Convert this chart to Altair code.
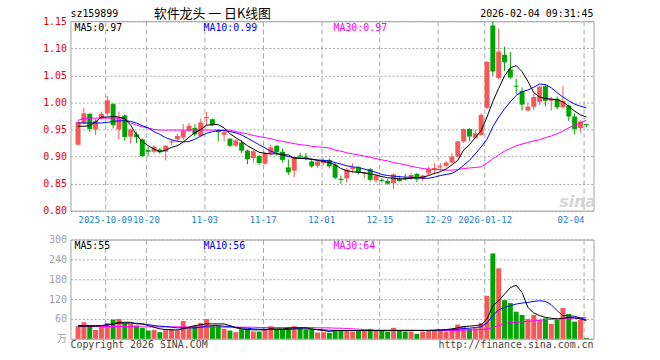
import altair as alt
import pandas as pd

# ---------------- data ----------------
dates = [
    "2025-09-24", "2025-09-25", "2025-09-26", "2025-09-29", "2025-09-30",
    "2025-10-09", "2025-10-10", "2025-10-13", "2025-10-14", "2025-10-15", "2025-10-16", "2025-10-17",
    "2025-10-20", "2025-10-21", "2025-10-22", "2025-10-23", "2025-10-24",
    "2025-10-27", "2025-10-28", "2025-10-29", "2025-10-30", "2025-10-31",
    "2025-11-03", "2025-11-04", "2025-11-05", "2025-11-06", "2025-11-07",
    "2025-11-10", "2025-11-11", "2025-11-12", "2025-11-13", "2025-11-14",
    "2025-11-17", "2025-11-18", "2025-11-19", "2025-11-20", "2025-11-21",
    "2025-11-24", "2025-11-25", "2025-11-26", "2025-11-27", "2025-11-28",
    "2025-12-01", "2025-12-02", "2025-12-03", "2025-12-04", "2025-12-05",
    "2025-12-08", "2025-12-09", "2025-12-10", "2025-12-11", "2025-12-12",
    "2025-12-15", "2025-12-16", "2025-12-17", "2025-12-18", "2025-12-19",
    "2025-12-22", "2025-12-23", "2025-12-24", "2025-12-25", "2025-12-26",
    "2025-12-29", "2025-12-30", "2025-12-31",
    "2026-01-05", "2026-01-06", "2026-01-07", "2026-01-08", "2026-01-09",
    "2026-01-12", "2026-01-13", "2026-01-14", "2026-01-15", "2026-01-16",
    "2026-01-19", "2026-01-20", "2026-01-21", "2026-01-22", "2026-01-23",
    "2026-01-26", "2026-01-27", "2026-01-28", "2026-01-29", "2026-01-30",
    "2026-02-02", "2026-02-03", "2026-02-04",
]

open_ = [0.922, 0.962, 0.979, 0.950, 0.970, 0.980, 0.997, 0.950, 0.976, 0.937, 0.941, 0.932,
         0.912, 0.909, 0.913, 0.909, 0.926, 0.932, 0.935, 0.948, 0.953, 0.938,
         0.971, 0.969, 0.949, 0.940, 0.933, 0.920, 0.926, 0.911, 0.897, 0.901,
         0.887, 0.906, 0.920, 0.909, 0.880, 0.874, 0.902, 0.900, 0.891, 0.883,
         0.888, 0.894, 0.885, 0.859, 0.860, 0.877, 0.880, 0.868, 0.877, 0.856,
         0.857, 0.855, 0.851, 0.859, 0.860, 0.860, 0.868, 0.859, 0.869, 0.876,
         0.880, 0.883, 0.889, 0.900, 0.928, 0.951, 0.934, 0.940,
         0.990, 1.142, 1.045, 1.088, 1.061, 1.031, 1.021, 0.985, 0.992, 1.001,
         1.030, 1.003, 1.007, 0.991, 0.994, 0.974, 0.953, 0.960]
high = [0.967, 0.990, 0.980, 0.970, 0.983, 1.012, 0.999, 0.983, 0.978, 0.951, 0.946, 0.933,
        0.918, 0.921, 0.916, 0.921, 0.932, 0.942, 0.960, 0.962, 0.960, 0.970,
        0.982, 0.970, 0.951, 0.948, 0.934, 0.932, 0.931, 0.913, 0.912, 0.903,
        0.909, 0.922, 0.921, 0.915, 0.895, 0.900, 0.907, 0.907, 0.897, 0.893,
        0.896, 0.896, 0.888, 0.865, 0.880, 0.888, 0.882, 0.872, 0.879, 0.867,
        0.860, 0.859, 0.869, 0.865, 0.868, 0.869, 0.870, 0.867, 0.881, 0.888,
        0.888, 0.892, 0.907, 0.929, 0.952, 0.952, 0.950, 0.980,
        1.076, 1.149, 1.137, 1.103, 1.093, 1.044, 1.028, 1.000, 1.016, 1.030,
        1.033, 1.010, 1.011, 1.030, 0.996, 0.980, 0.967, 0.960]
low = [0.920, 0.960, 0.945, 0.940, 0.968, 0.975, 0.952, 0.932, 0.929, 0.924, 0.925, 0.899,
       0.901, 0.906, 0.905, 0.893, 0.921, 0.928, 0.930, 0.945, 0.937, 0.936,
       0.958, 0.956, 0.928, 0.928, 0.917, 0.918, 0.906, 0.886, 0.889, 0.885,
       0.885, 0.902, 0.902, 0.889, 0.866, 0.862, 0.897, 0.893, 0.879, 0.879,
       0.884, 0.878, 0.858, 0.850, 0.852, 0.870, 0.867, 0.859, 0.854, 0.851,
       0.852, 0.848, 0.840, 0.854, 0.856, 0.857, 0.853, 0.855, 0.866, 0.867,
       0.873, 0.880, 0.888, 0.898, 0.925, 0.929, 0.932, 0.938,
       0.988, 1.049, 1.042, 1.058, 1.043, 1.015, 0.985, 0.983, 0.986, 0.995,
       0.993, 0.985, 0.987, 0.989, 0.966, 0.941, 0.944, 0.954]
close = [0.964, 0.980, 0.951, 0.966, 0.979, 1.004, 0.958, 0.972, 0.936, 0.950, 0.936, 0.901,
         0.909, 0.918, 0.908, 0.920, 0.928, 0.938, 0.948, 0.957, 0.941, 0.963,
         0.973, 0.958, 0.945, 0.945, 0.920, 0.930, 0.911, 0.895, 0.910, 0.888,
         0.906, 0.917, 0.908, 0.894, 0.871, 0.898, 0.900, 0.898, 0.882, 0.891,
         0.894, 0.882, 0.861, 0.857, 0.876, 0.880, 0.870, 0.871, 0.857, 0.865,
         0.855, 0.850, 0.867, 0.855, 0.858, 0.866, 0.858, 0.865, 0.877, 0.879,
         0.882, 0.889, 0.900, 0.928, 0.951, 0.937, 0.943, 0.977,
         1.075, 1.057, 1.094, 1.074, 1.046, 1.029, 0.996, 0.992, 1.010, 1.029,
         1.003, 1.007, 0.991, 1.003, 0.974, 0.951, 0.965, 0.958]

ma5 = [0.956, 0.956, 0.957, 0.964, 0.973, 0.973, 0.974, 0.973, 0.970, 0.958, 0.940, 0.928,
       0.920, 0.914, 0.909, 0.912, 0.917, 0.920, 0.927, 0.936, 0.944, 0.950,
       0.958, 0.959, 0.959, 0.953, 0.942, 0.935, 0.928, 0.920, 0.914, 0.908,
       0.906, 0.905, 0.905, 0.904, 0.903, 0.897, 0.897, 0.897, 0.895, 0.893,
       0.891, 0.889, 0.885, 0.878, 0.874, 0.872, 0.871, 0.870, 0.868, 0.866,
       0.863, 0.861, 0.860, 0.859, 0.859, 0.860, 0.861, 0.862, 0.865, 0.869,
       0.872, 0.877, 0.885, 0.893, 0.912, 0.922, 0.935, 0.948,
       0.973, 1.002, 1.026, 1.049, 1.064, 1.068, 1.057, 1.039, 1.018, 1.010,
       1.007, 1.006, 1.005, 1.001, 0.993, 0.984, 0.977, 0.973]
ma10 = [0.962, 0.962, 0.962, 0.962, 0.962, 0.963, 0.965, 0.966, 0.966, 0.965, 0.962, 0.957,
        0.953, 0.946, 0.941, 0.935, 0.931, 0.928, 0.927, 0.928, 0.932, 0.938,
        0.943, 0.946, 0.948, 0.948, 0.946, 0.944, 0.940, 0.934, 0.928, 0.922,
        0.916, 0.910, 0.906, 0.903, 0.900, 0.898, 0.897, 0.896, 0.895, 0.894,
        0.893, 0.892, 0.889, 0.886, 0.883, 0.881, 0.880, 0.877, 0.874, 0.871,
        0.867, 0.865, 0.864, 0.863, 0.862, 0.862, 0.861, 0.860, 0.860, 0.862,
        0.865, 0.867, 0.869, 0.875, 0.884, 0.893, 0.905, 0.918,
        0.932, 0.955, 0.973, 0.988, 1.001, 1.013, 1.020, 1.023, 1.028, 1.034,
        1.033, 1.027, 1.018, 1.010, 1.003, 0.997, 0.993, 0.990]
ma30 = [0.967, 0.970, 0.971, 0.971, 0.971, 0.971, 0.971, 0.971, 0.971, 0.962, 0.958, 0.955,
        0.953, 0.950, 0.949, 0.949, 0.949, 0.949, 0.949, 0.949, 0.949, 0.949,
        0.949, 0.949, 0.949, 0.949, 0.949, 0.946, 0.944, 0.942, 0.939, 0.937,
        0.935, 0.933, 0.930, 0.928, 0.926, 0.924, 0.922, 0.921, 0.919, 0.918,
        0.917, 0.916, 0.912, 0.910, 0.907, 0.905, 0.903, 0.901, 0.899, 0.896,
        0.894, 0.892, 0.889, 0.887, 0.885, 0.882, 0.880, 0.878, 0.877, 0.876,
        0.876, 0.875, 0.875, 0.876, 0.878, 0.879, 0.880, 0.881,
        0.888, 0.896, 0.903, 0.910, 0.915, 0.920, 0.923, 0.926, 0.929, 0.931,
        0.935, 0.938, 0.942, 0.947, 0.953, 0.958, 0.962, 0.967]

vol = [38, 50, 40, 27, 38, 48, 58, 60, 47, 45, 40, 33,
       25, 27, 20, 26, 30, 26, 54, 34, 39, 48,
       60, 40, 40, 30, 25, 20, 29, 30, 22, 22,
       29, 38, 27, 27, 35, 38, 35, 28, 28, 19,
       20, 18, 25, 25, 25, 22, 25, 25, 30, 25,
       25, 22, 33, 25, 22, 22, 15, 22, 25, 25,
       25, 22, 28, 43, 38, 30, 32, 48,
       130, 258, 213, 117, 108, 82, 72, 60, 72, 57,
       62, 45, 57, 93, 75, 52, 57, 3]
vma5 = [38, 38, 38, 38, 40, 42, 45, 50, 50, 50, 45, 45,
        40, 35, 30, 28, 27, 27, 30, 35, 40, 42,
        45, 45, 45, 45, 40, 33, 30, 28, 27, 27,
        27, 30, 30, 30, 32, 33, 33, 33, 30, 27,
        25, 22, 25, 25, 25, 25, 25, 25, 25, 25,
        25, 25, 25, 25, 25, 25, 25, 25, 25, 25,
        27, 28, 30, 33, 37, 38, 40, 42,
        60, 100, 115, 135, 155, 162, 140, 95, 78, 70,
        65, 62, 60, 62, 65, 63, 60, 55]
vma10 = [40, 40, 40, 40, 40, 42, 45, 47, 47, 47, 47, 45,
         43, 40, 38, 37, 35, 33, 33, 33, 33, 35,
         38, 40, 40, 38, 37, 35, 33, 32, 30, 29,
         29, 29, 28, 28, 28, 30, 30, 30, 29, 28,
         27, 26, 25, 25, 25, 25, 25, 25, 25, 25,
         25, 25, 25, 25, 25, 25, 25, 25, 25, 26,
         26, 27, 28, 29, 31, 32, 34, 36,
         48, 70, 88, 95, 100, 105, 108, 110, 113, 115,
         113, 103, 85, 70, 70, 68, 63, 58]
vma30 = [37, 37, 37, 37, 37, 37, 37, 37, 37, 37, 37, 36,
         36, 36, 36, 36, 36, 36, 36, 36, 36, 35,
         35, 35, 35, 35, 35, 35, 35, 35, 35, 34,
         34, 34, 34, 34, 34, 34, 34, 34, 34, 33,
         33, 33, 32, 32, 31, 30, 29, 28, 27, 26,
         26, 26, 26, 26, 26, 26, 26, 26, 26, 26,
         26, 25, 25, 25, 26, 27, 27, 28,
         30, 34, 40, 46, 49, 50, 51, 53, 54, 56,
         58, 59, 60, 61, 62, 63, 64, 64]

axis_dates = ["2025-10-09", "2025-10-20", "2025-11-03", "2025-11-17", "2025-12-01",
              "2025-12-15", "2025-12-29", "2026-01-12", "2026-02-04"]
axis_labels = ["2025-10-09", "10-20", "11-03", "11-17", "12-01",
               "12-15", "12-29", "2026-01-12", "02-04"]
price_ticks = [0.80, 0.85, 0.90, 0.95, 1.00, 1.05, 1.10, 1.15]
vol_ticks = [0, 60, 120, 180, 240, 300]

# ---------------- table ----------------
n = len(dates)
df = pd.DataFrame({
    "i": list(range(n)), "date": dates, "open": open_, "high": high, "low": low,
    "close": close, "vol": vol, "ma5": ma5, "ma10": ma10, "ma30": ma30,
    "vma5": vma5, "vma10": vma10, "vma30": vma30,
})
df["dir"] = ["up" if c >= o else "down" for o, c in zip(open_, close)]

RED = "#f65858"
GREEN = "#00a400"
MONO = "DejaVu Sans Mono"
GRID = "#a8a8a8"
W, H1, H2 = 527, 191, 100

tick_vals = [dates.index(d) - 0.4 for d in axis_dates]
expr = "'" + axis_labels[-1] + "'"
for v, lab in reversed(list(zip(tick_vals[:-1], axis_labels[:-1]))):
    expr = f"datum.value < {v + 1:.2f} ? '{lab}' : " + expr

xscale = alt.Scale(domain=[-0.45, 87.38], nice=False, zero=False)
x_top_axis = alt.Axis(values=tick_vals, labelExpr=expr, grid=True, gridDash=[5, 3],
                      gridColor=GRID, ticks=False, domain=False, labelColor="#1a80d0",
                      labelFont=MONO, labelFontSize=9, labelPadding=5, labelFlush=10,
                      labelOverlap=False, title=None)
x_bot_axis = alt.Axis(values=tick_vals, labels=False, grid=True, gridDash=[5, 3],
                      gridColor=GRID, ticks=False, domain=False, title=None)
pscale = alt.Scale(domain=[0.80, 1.15], nice=False, zero=False)
p_axis = alt.Axis(values=price_ticks, format=".2f", grid=True, gridDash=[2, 2],
                  gridColor=GRID, ticks=False, domain=False, labelColor="#e80000",
                  labelFont=MONO, labelFontSize=10, labelPadding=4, title=None)
vscale = alt.Scale(domain=[0, 300], nice=False, zero=True)
v_axis = alt.Axis(values=vol_ticks, grid=True, gridDash=[2, 2], gridColor=GRID,
                  ticks=False, domain=False, labelColor="#a0a0a0",
                  labelFont=MONO + ", Noto Sans CJK SC", labelFontSize=10, labelPadding=4,
                  labelExpr="datum.value == 0 ? '万' : datum.label", title=None)

color = alt.Color("dir:N", scale=alt.Scale(domain=["up", "down"], range=[RED, GREEN]), legend=None)
XT = alt.X("i:Q", scale=xscale, axis=x_top_axis)
XB = alt.X("i:Q", scale=xscale, axis=x_bot_axis)


def PY(f):
    return alt.Y(f"{f}:Q", scale=pscale, axis=p_axis)


def VY(f):
    return alt.Y(f"{f}:Q", scale=vscale, axis=v_axis)


def label(text, x, y, col, align="left", size=10, font=MONO, **kw):
    return alt.Chart(pd.DataFrame({"t": [text]})).mark_text(
        align=align, baseline="middle", fontSize=size, font=font, color=col, **kw
    ).encode(x=alt.value(x), y=alt.value(y), text="t:N")


base = alt.Chart(df)

wicks = base.mark_rule(strokeWidth=1).encode(x=XT, y=PY("low"), y2="high:Q", color=color)
bodies = base.mark_bar(size=5).encode(x=XT, y=PY("open"), y2="close:Q", color=color)
l5 = base.mark_line(color="#000000", strokeWidth=1).encode(x=XT, y=PY("ma5"))
l10 = base.mark_line(color="#0000ff", strokeWidth=1).encode(x=XT, y=PY("ma10"))
l30 = base.mark_line(color="#ff00ff", strokeWidth=1).encode(x=XT, y=PY("ma30"))

top = alt.layer(
    wicks, bodies, l30, l10, l5,
    label("sz159899", 0, -7, "#000000"),
    label("软件龙头 一 日K线图", 143, -7.5, "#000000", align="center", size=13,
          font="Noto Sans CJK SC"),
    label("2026-02-04 09:31:45", W, -7, "#000000", align="right"),
    label("MA5:0.97", 4, 6.5, "#000000"),
    label("MA10:0.99", 134, 6.5, "#0000ff"),
    label("MA30:0.97", 265, 6.5, "#ff00ff"),
    label("sina", 511, 182, "#d4d4d4", align="center", size=16, font="DejaVu Sans",
          fontStyle="italic", fontWeight="bold"),
).properties(width=W, height=H1)

vbars = base.mark_bar(size=5).encode(x=XB, y=VY("vol"), color=color)
v5 = base.mark_line(color="#000000", strokeWidth=1).encode(x=XB, y=VY("vma5"))
v10 = base.mark_line(color="#0000ff", strokeWidth=1).encode(x=XB, y=VY("vma10"))
v30 = base.mark_line(color="#ff00ff", strokeWidth=1).encode(x=XB, y=VY("vma30"))

bottom = alt.layer(
    vbars, v30, v10, v5,
    label("MA5:55", 4, 6.5, "#000000"),
    label("MA10:56", 134, 6.5, "#0000ff"),
    label("MA30:64", 265, 6.5, "#ff00ff"),
    label("Copyright 2026 SINA.COM", 0, 106, "#444444"),
    label("http://finance.sina.com.cn", W, 106, "#444444", align="right"),
).properties(width=W, height=H2)

chart = alt.vconcat(top, bottom, spacing=29, bounds="flush").properties(
    padding={"left": 42, "top": 6, "right": 63, "bottom": 5},
    background="#ffffff",
).configure_view(stroke="#a0a0a0", strokeWidth=1)

chart.save("out.html", embed_options={"renderer": "svg", "actions": False})
